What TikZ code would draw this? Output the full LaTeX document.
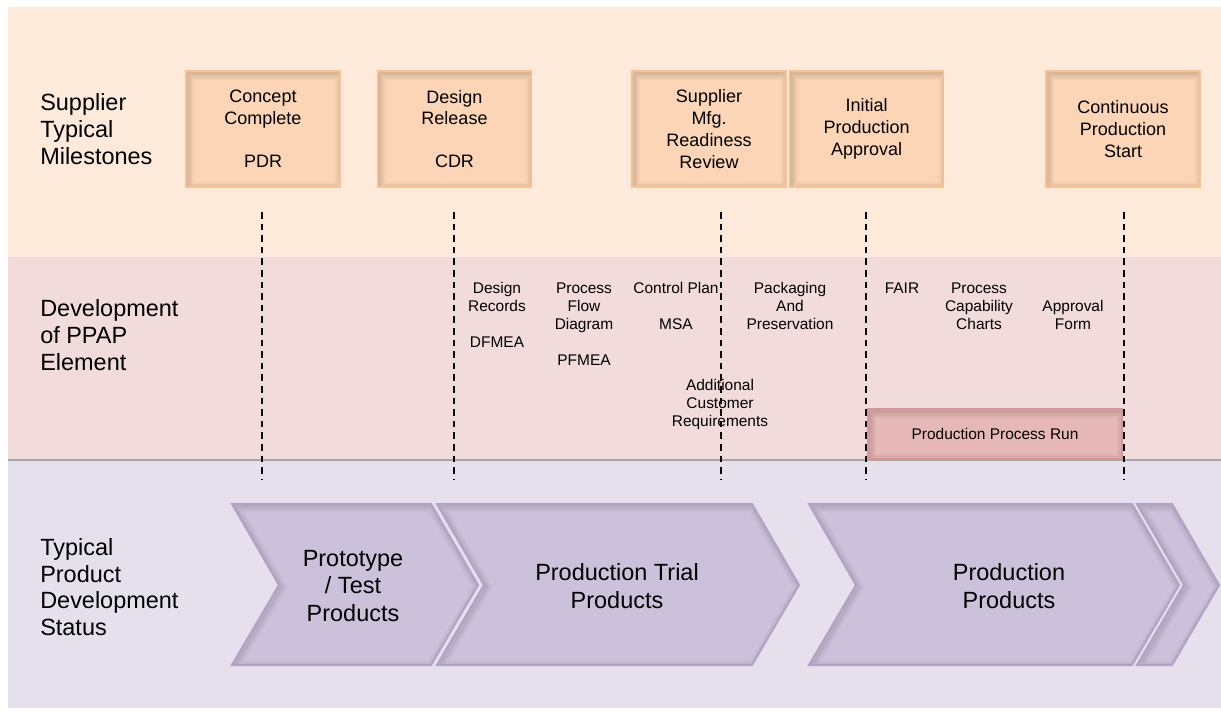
\documentclass[tikz,border=0pt]{standalone}
\usepackage{fontspec}
\setmainfont{Liberation Sans}
\usepackage{tikz}
\usetikzlibrary{positioning}

\newcommand{\chevshape}[2]{(#1,504) -- (#2,504) -- ++(47,81) -- (#2,665) -- (#1,665) -- ++(47,-80) -- cycle}

\begin{document}
\begin{tikzpicture}[x=0.75pt,y=-0.75pt,
	innershade/.style={path picture={
		\foreach \w in {10,7,4.5,2.5}{
			\draw[black,opacity=.035,line width=\w pt] ([shift={(1.2pt,-1.5pt)}]path picture bounding box.north west) rectangle ([shift={(1.2pt,-1.5pt)}]path picture bounding box.south east);
		}}},
	milestone/.style={draw=milestoneedge,fill=milestonefill,line width=1.2pt,innershade,
		minimum width=115.5pt,minimum height=87pt,inner sep=0pt,align=center,
		font=\fontsize{13.5}{16.3}\selectfont},
	run/.style={draw=runedge,fill=runfill,line width=1.2pt,innershade,
		minimum width=190.5pt,minimum height=37.5pt,inner sep=0pt,
		font=\fontsize{11.6}{13.5}\selectfont},
	element/.style={align=center,inner sep=0pt,font=\fontsize{11.6}{13.5}\selectfont},
	rowlabel/.style={anchor=west,align=left,inner sep=0pt,font=\fontsize{17.6}{20}\selectfont},
	stage/.style={align=center,inner sep=0pt,font=\fontsize{17.6}{20.6}\selectfont},
	guide/.style={black,line width=1.5pt,dash pattern=on 5pt off 3.7pt}]
	
	\definecolor{peachband}{RGB}{253,234,218}
	\definecolor{pinkband}{RGB}{242,220,219}
	\definecolor{lavband}{RGB}{229,224,236}
	\definecolor{milestonefill}{RGB}{251,213,181}
	\definecolor{milestoneedge}{RGB}{250,192,144}
	\definecolor{runfill}{RGB}{230,185,184}
	\definecolor{runedge}{RGB}{217,150,148}
	\definecolor{chevfill}{RGB}{204,193,218}
	\definecolor{chevedge}{RGB}{179,162,199}
	
	\useasboundingbox (0,0) rectangle (1221,711);
	
	% bands
	\fill[peachband] (8,7) rectangle (1221,257);
	\fill[pinkband] (8,257) rectangle (1221,460);
	\fill[lavband] (8,460) rectangle (1221,708);
	\draw[gray!70,line width=0.9pt] (8,460) -- (1221,460);
	
	\node[rowlabel] (miles) at (40,129) {Supplier\\Typical\\Milestones};
	\node[rowlabel] (ppap) at (40,335) {Development\\of PPAP\\Element};
	\node[rowlabel] (status) at (40,587) {Typical\\Product\\Development\\Status};
	
	% milestones
	\node[milestone] (concept) at (263,129) {Concept\\Complete\\[16pt]PDR};
	\node[milestone] (design) at (454.5,129) {Design\\Release\\[16pt]CDR};
	\node[milestone] (readiness) at (709,129) {Supplier\\Mfg.\\Readiness\\Review};
	\node[milestone,right=1.5pt of readiness] (approval) {Initial\\Production\\Approval};
	\node[milestone] (contstart) at (1123,129) {Continuous\\Production\\Start};
	
	% PPAP elements
	\node[element] (records) at (497,315) {Design\\Records\\[13.5pt]DFMEA};
	\node[element] (flow) at (584,324) {Process\\Flow\\Diagram\\[13.5pt]PFMEA};
	\node[element] (control) at (676,306) {Control Plan\\[13.5pt]MSA};
	\node[element] (packaging) at (790,306) {Packaging\\And\\Preservation};
	\node[element] (customer) at (720,404) {Additional\\Customer\\Requirements};
	\node[element] (fair) at (902,288) {FAIR};
	\node[element] (capability) at (979,306) {Process\\Capability\\Charts};
	\node[element] (form) at (1073,315) {Approval\\Form};
	\node[run] (run) at (995,434) {Production Process Run};
	
	% status chevrons
	\foreach \a/\b in {232/431,437/752,809/1132,1137/1172}{
		\begin{scope}
			\clip \chevshape{\a}{\b};
			\fill[chevfill] \chevshape{\a}{\b};
			\foreach \w in {9,6,3.5}{
				\draw[black,opacity=.035,line width=\w pt,shift={(1pt,-1.5pt)}] \chevshape{\a}{\b};
			}
		\end{scope}
		\draw[chevedge,line width=1.5pt,line join=miter] \chevshape{\a}{\b};
	}
	\node[stage] (proto) at (353,586) {Prototype\\/ Test\\Products};
	\node[stage] (trial) at (617,586) {Production Trial\\Products};
	\node[stage] (prod) at (1009,586) {Production\\Products};
	
	% milestone guides
	\foreach \n/\x in {pdr/262,cdr/454,smrr/721,ipa/866,cps/1124}{
		\coordinate (\n top) at (\x,212);
		\coordinate (\n bot) at (\x,480);
		\draw[guide] (\n top) -- (\n bot);
	}
\end{tikzpicture}
\end{document}
